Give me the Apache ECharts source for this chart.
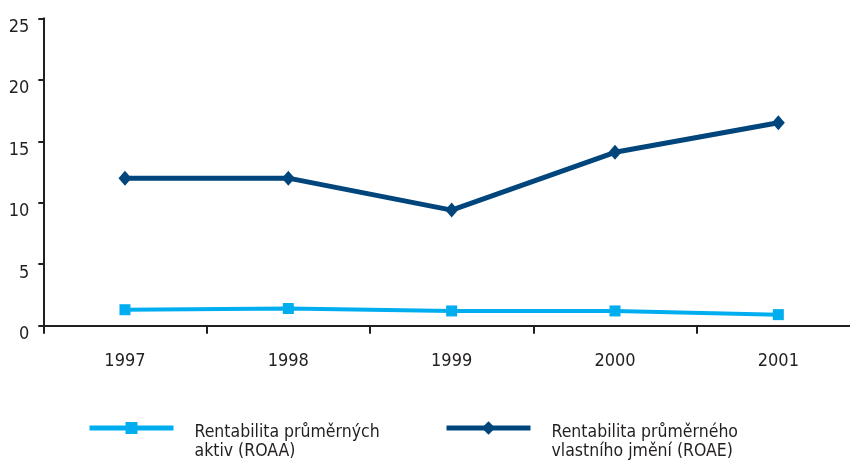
<!DOCTYPE html>
<html>
<head>
<meta charset="utf-8">
<script src="https://cdn.jsdelivr.net/npm/echarts@6/dist/echarts.min.js"></script>
<style>
html,body{margin:0;padding:0;background:#fff;overflow:hidden;width:850px;height:461px;}
#chart{width:870px;height:461px;}
</style>
</head>
<body>
<div id="chart"></div>
<script>
const categories = ['1997', '1998', '1999', '2000', '2001'];
const roaa = [1.3, 1.4, 1.2, 1.2, 0.9];
const roae = [12.0, 12.0, 9.4, 14.1, 16.5];
const seriesNames = ['Rentabilita průměrných\naktiv (ROAA)', 'Rentabilita průměrného\nvlastního jmění (ROAE)'];
const yTicks = [0, 5, 10, 15, 20, 25];

const FONT = 'DejaVu Sans Condensed';
const TXT = '#231f20';
const C1 = '#00aeef';
const C2 = '#00467c';

const chart = echarts.init(document.getElementById('chart'));
const legendText = {
  fontFamily: FONT, fontSize: 17.5, color: TXT, lineHeight: 19,
  padding: [0, 0, 0, 16],
  rich: {
    s: { fontSize: 2, lineHeight: 27 },
    t: { fontFamily: FONT, fontSize: 17.5, color: TXT, lineHeight: 19 }
  }
};
const legendFormatter = function (name) {
  return '{s| }\n' + name.split('\n').map(function (l) { return '{t|' + l + '}'; }).join('\n');
};
chart.setOption({
  animation: false,
  grid: { left: 43.3, top: 18.3, right: 10, bottom: 135.3 },
  legend: [
    { left: 87, top: 395.5, padding: 0, data: [seriesNames[0]], itemWidth: 84, itemHeight: 15,
      lineStyle: { width: 5 }, textStyle: legendText, formatter: legendFormatter },
    { left: 444, top: 395.5, padding: 0, data: [seriesNames[1]], itemWidth: 84, itemHeight: 17,
      lineStyle: { width: 5 }, textStyle: legendText, formatter: legendFormatter }
  ],
  xAxis: {
    type: 'category',
    data: categories,
    boundaryGap: true,
    axisLine: { lineStyle: { color: TXT, width: 2 } },
    axisTick: { show: true, length: 8, lineStyle: { color: TXT, width: 2 } },
    axisLabel: { fontFamily: FONT, fontSize: 18, color: TXT, margin: 27 },
    splitLine: { show: false }
  },
  yAxis: {
    type: 'value',
    min: yTicks[0],
    max: yTicks[yTicks.length - 1],
    interval: 5,
    axisLine: { show: true, lineStyle: { color: TXT, width: 2 } },
    axisTick: { show: true, length: 5, lineStyle: { color: TXT, width: 2 } },
    axisLabel: {
      fontFamily: FONT, fontSize: 18, color: TXT, margin: 14,
      formatter: function (v) { return '{a|' + v + '}'; },
      rich: { a: { fontFamily: FONT, fontSize: 18, color: TXT, padding: [18, 0, 0, 0] } }
    },
    splitLine: { show: false }
  },
  series: [
    {
      name: seriesNames[0], type: 'line', data: roaa,
      symbol: 'rect', symbolSize: 11,
      lineStyle: { color: C1, width: 4 }, itemStyle: { color: C1 }
    },
    {
      name: seriesNames[1], type: 'line', data: roae,
      symbol: 'diamond', symbolSize: [13, 15],
      lineStyle: { color: C2, width: 5 }, itemStyle: { color: C2 }
    }
  ]
});
</script>
</body>
</html>
